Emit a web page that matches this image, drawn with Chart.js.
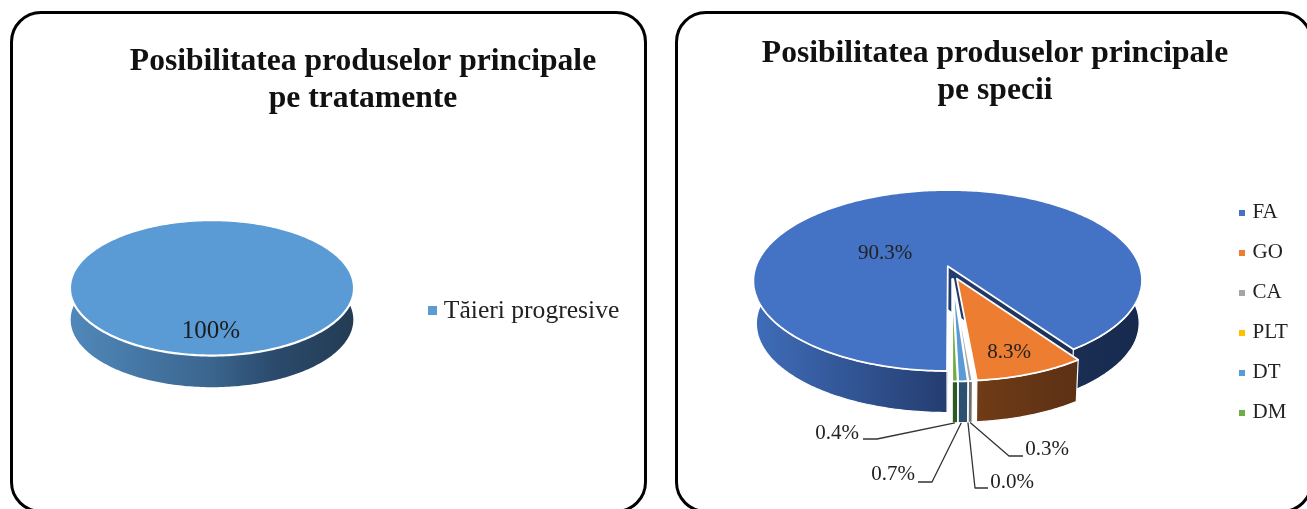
<!DOCTYPE html>
<html><head><meta charset="utf-8">
<script src="https://cdn.jsdelivr.net/npm/chart.js@4"></script>
<style>
html,body{margin:0;padding:0;background:#fff;width:1307px;height:509px;overflow:hidden}
.panel{position:absolute;box-sizing:border-box;border:3.5px solid #000;border-radius:31px;background:#fff}
canvas{position:absolute;top:0}
</style></head><body>
<div class="panel" style="left:10px;top:11px;width:637px;height:502px"></div>
<div class="panel" style="left:675px;top:11px;width:638px;height:502px"></div>
<canvas id="c1" width="726" height="509" style="left:0"></canvas>
<canvas id="c2" width="624" height="509" style="left:683px"></canvas>
<script>
const treatmentLabels = ['Tăieri progresive'];
const treatmentValues = [100];
const treatmentColors = ['#5b9bd5'];
const speciesLabels = ['FA', 'GO', 'CA', 'PLT', 'DT', 'DM'];
const speciesValues = [90.3, 8.3, 0.3, 0, 0.7, 0.4];
const speciesColors = ['#4472c4', '#ed7d31', '#a5a5a5', '#ffc000', '#5b9bd5', '#70ad47'];
const FONT = '"Liberation Serif", serif';

function hGrad(ctx, x0, x1, stops) {
  const g = ctx.createLinearGradient(x0, 0, x1, 0);
  stops.forEach(s => g.addColorStop(s[0], s[1]));
  return g;
}

function legendMark(color, size, shift) {
  const c = document.createElement('canvas');
  c.width = Math.ceil(size + 2 * shift); c.height = Math.ceil(size);
  const x = c.getContext('2d');
  x.fillStyle = color;
  x.fillRect(c.width - size, 0, size, size);
  return c;
}

function pie3d(cfg) {
  return {
    id: 'pie3d',
    afterLayout(chart) {
      const lg = chart.legend, h = lg.bottom - lg.top, w = lg.right - lg.left;
      lg.left = cfg.legendX; lg.right = cfg.legendX + w;
      lg.top = cfg.legendY; lg.bottom = cfg.legendY + h;
    },
    beforeDatasetDraw(chart) {
      const ctx = chart.ctx, v = cfg.view, els = chart.getDatasetMeta(0).data;
      const P = (u, w, low) => {
        const k = 1 / (1 - v.p * w), s = low ? v.shrink : 1;
        return [v.cx + v.a * u * k * s, v.cy + v.b * w * k * s + (low ? v.depth : 0)];
      };
      const geom = els.map((el, i) => {
        const mid = (el.startAngle + el.endAngle) / 2;
        const full = el.endAngle - el.startAngle > 6.28;
        const e = full ? 0 : v.explode;
        const r = i === 0 ? 1 : v.minorRadius;
        const ou = e * Math.cos(mid), ow = e * Math.sin(mid);
        const arc = (low) => {
          const pts = [], n = Math.max(2, Math.ceil((el.endAngle - el.startAngle) * 60));
          for (let j = 0; j <= n; j++) {
            const t = el.startAngle + (el.endAngle - el.startAngle) * j / n;
            pts.push(P(ou + r * Math.cos(t), ow + r * Math.sin(t), low));
          }
          return pts;
        };
        return { el, full, apex: P(ou, ow, false), apexLow: P(ou, ow, true), top: arc(false), low: arc(true) };
      });
      const poly = (pts) => { ctx.beginPath(); pts.forEach((p, i) => i ? ctx.lineTo(p[0], p[1]) : ctx.moveTo(p[0], p[1])); ctx.closePath(); };
      ctx.save();
      ctx.lineJoin = 'round';
      cfg.drawOrder.forEach(i => {
        const g = geom[i];
        if (g.el.endAngle - g.el.startAngle < 1e-4) return;
        const side = cfg.sides[i](ctx);
        ctx.fillStyle = side;
        if (!g.full && i === 0) {
          const a0 = g.top[0], b0 = g.low[0], a1 = g.top[g.top.length - 1], b1 = g.low[g.low.length - 1];
          poly([g.apex, a0, b0, g.apexLow]); ctx.fill();
          poly([g.apex, a1, b1, g.apexLow]); ctx.fill();
        }
        const band = g.top.concat(g.low.slice().reverse());
        poly(band); ctx.fill();
        if (!g.full) { ctx.strokeStyle = '#fff'; ctx.lineWidth = 1.2; ctx.stroke(); }
        poly(g.full ? g.top : [g.apex].concat(g.top));
        ctx.fillStyle = g.el.options.backgroundColor; ctx.fill();
        ctx.strokeStyle = '#fff'; ctx.lineWidth = cfg.stroke; ctx.stroke();
      });
      // leader lines
      ctx.strokeStyle = '#333'; ctx.lineWidth = 1.3;
      (cfg.leaders || []).forEach(l => {
        const g = geom[l.index], m = g.low[Math.floor(g.low.length / 2)];
        ctx.beginPath(); ctx.moveTo(m[0], m[1]);
        ctx.lineTo(l.knee[0], l.knee[1]); ctx.lineTo(l.end[0], l.end[1]); ctx.stroke();
      });
      // data labels
      ctx.fillStyle = cfg.labelColor; ctx.textAlign = 'center'; ctx.textBaseline = 'middle';
      ctx.font = cfg.labelSize + 'px ' + FONT;
      cfg.labels.forEach(l => ctx.fillText(l.text, l.x, l.y));
      ctx.restore();
      return false;
    }
  };
}

function makeChart(id, labels, values, colors, title, titleTop, legendFont, legendPad, box, shift, cfg) {
  return new Chart(document.getElementById(id), {
    type: 'pie',
    data: { labels, datasets: [{ data: values, backgroundColor: colors, borderWidth: 0 }] },
    options: {
      responsive: false, animation: false, rotation: 180,
      plugins: {
        tooltip: { enabled: false },
        title: { display: true, text: title, color: '#111', align: 'center',
          font: { family: FONT, size: 31.6, weight: 'bold', lineHeight: 1.17 }, padding: { top: titleTop, bottom: 0 } },
        legend: { display: true, position: 'right', align: 'start',
          labels: { usePointStyle: true, boxWidth: box, boxHeight: box, padding: legendPad, color: '#222',
            font: { family: FONT, size: legendFont },
            generateLabels: (chart) => labels.map((t, i) => ({ text: t, index: i, fontColor: '#222',
              fillStyle: colors[i], strokeStyle: colors[i], lineWidth: 0, pointStyle: legendMark(colors[i], box, shift) })) } }
      }
    },
    plugins: [pie3d(cfg)]
  });
}

makeChart('c1', treatmentLabels, treatmentValues, treatmentColors,
  ['Posibilitatea produselor principale', 'pe tratamente'], 43, 25.6, 10, 9, 6, {
    view: { cx: 212, cy: 277, a: 140.2, b: 66, p: 0.16, depth: 32, shrink: 0.995, explode: 0 , minorRadius: 1},
    drawOrder: [0], stroke: 2.2, labelColor: '#1c1c1c', labelSize: 25,
    legendX: 412, legendY: 288,
    sides: [ctx => hGrad(ctx, 70, 354, [[0, '#5088ba'], [0.5, '#3a658e'], [0.72, '#2b4a6c'], [1, '#233c54']])],
    labels: [{ text: treatmentValues[0] + '%', x: 211, y: 331 }]
  });

const fmt = v => v.toFixed(1) + '%';
const ox = 683;
makeChart('c2', speciesLabels, speciesValues, speciesColors,
  ['Posibilitatea produselor principale', 'pe specii'], 35, 21, 19, 6, 3, {
    view: { cx: 952 - ox, cy: 272.4, a: 194, b: 90.2, p: 0.16, depth: 43, shrink: 0.985, explode: 0.073, minorRadius: 0.94 },
    drawOrder: [0, 1, 2, 3, 4, 5], stroke: 1.8, labelColor: '#222', labelSize: 21,
    legendX: 1217 - ox, legendY: 183,
    sides: [
      ctx => hGrad(ctx, 754 - ox, 1141 - ox, [[0, '#3f6db9'], [0.5, '#243d70'], [0.84, '#1a2e54'], [1, '#172a4e']]),
      ctx => hGrad(ctx, 975 - ox, 1080 - ox, [[0, '#713c17'], [1, '#5b3014']]),
      () => '#6f6f6f', () => '#7a5c00', () => '#2b5070', () => '#2e5a22'
    ],
    leaders: [
      { index: 5, knee: [877 - ox, 439], end: [863 - ox, 439] },
      { index: 4, knee: [932 - ox, 482], end: [918 - ox, 482] },
      { index: 3, knee: [975 - ox, 488], end: [988 - ox, 488] },
      { index: 2, knee: [1009 - ox, 456], end: [1023 - ox, 456] }
    ],
    labels: [
      { text: fmt(speciesValues[0]), x: 885 - ox, y: 253 },
      { text: fmt(speciesValues[1]), x: 1009 - ox, y: 352 },
      { text: fmt(speciesValues[2]), x: 1047 - ox, y: 449 },
      { text: fmt(speciesValues[3]), x: 1012 - ox, y: 482 },
      { text: fmt(speciesValues[4]), x: 893 - ox, y: 474 },
      { text: fmt(speciesValues[5]), x: 837 - ox, y: 433 }
    ]
  });
</script>
</body></html>
